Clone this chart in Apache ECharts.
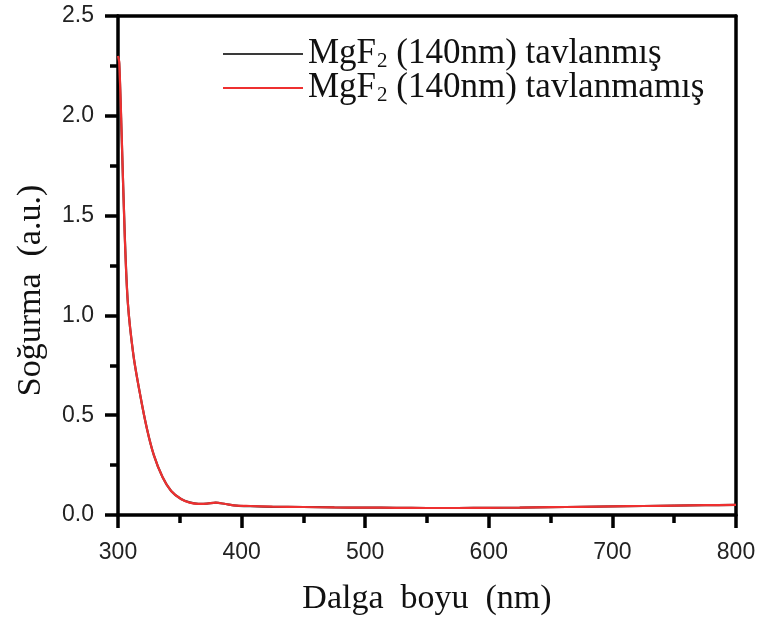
<!DOCTYPE html>
<html>
<head>
<meta charset="utf-8">
<script src="https://cdn.jsdelivr.net/npm/echarts@6/dist/echarts.min.js"></script>
<style>
html,body{margin:0;padding:0;background:#fff;}
#canvas{width:760px;height:628px;}
</style>
</head>
<body>
<div id="canvas"></div>
<script>
// wavelength (nm)
var wavelengths = [300, 301, 303, 305.5, 308, 312.5, 318, 323.5, 329, 336, 343, 351, 358, 365, 372, 379, 387, 396, 407, 425, 450, 475, 500, 525, 550, 575, 600, 625, 650, 675, 700, 725, 750, 775, 800];
// tavlanmis (black, almost hidden under red)
var tavlanmis = [2.30, 2.26, 1.89, 1.40, 1.06, 0.80, 0.60, 0.43, 0.30, 0.19, 0.12, 0.08, 0.063, 0.056, 0.057, 0.062, 0.055, 0.047, 0.044, 0.041, 0.040, 0.038, 0.037, 0.036, 0.035, 0.035, 0.036, 0.037, 0.039, 0.041, 0.043, 0.045, 0.047, 0.049, 0.051];
// tavlanmamis (red)
var tavlanmamis = [2.30, 2.27, 1.90, 1.39, 1.06, 0.80, 0.60, 0.43, 0.30, 0.19, 0.12, 0.08, 0.062, 0.056, 0.057, 0.062, 0.055, 0.047, 0.045, 0.042, 0.040, 0.038, 0.037, 0.036, 0.035, 0.035, 0.036, 0.037, 0.039, 0.041, 0.043, 0.045, 0.047, 0.049, 0.051];

var nameA = 'MgF2 (140nm) tavlanmış';
var nameB = 'MgF2 (140nm) tavlanmamış';
var legendLabels = {};
legendLabels[nameA] = 'MgF{sub|2} (140nm) tavlanmış';
legendLabels[nameB] = 'MgF{sub|2} (140nm) tavlanmamış';

function pairs(xs, ys){
    var out = [];
    for (var i = 0; i < xs.length; i++) { out.push([xs[i], ys[i]]); }
    return out;
}

var myChart = echarts.init(document.getElementById('canvas'));
var serif = '"Liberation Serif", "Times New Roman", serif';
var sans = '"Liberation Sans", Arial, sans-serif';

var legendText = {
    fontFamily: serif, fontSize: 35, color: '#111', lineHeight: 36,
    rich: {
        sub: { fontFamily: serif, fontSize: 21, color: '#111', lineHeight: 36, verticalAlign: 'bottom', padding: [16, 0, 0, 1] }
    }
};
function makeLegend(name, top){
    return {
        left: 218, top: top,
        itemWidth: 80, itemHeight: 2, itemGap: 0,
        icon: 'rect',
        data: [name],
        formatter: function (n) { return legendLabels[n]; },
        textStyle: legendText
    };
}

var axisLine = { show: true, onZero: false, lineStyle: { color: '#000', width: 3.5 } };
var tickLabel = { fontFamily: sans, fontSize: 23, color: '#222' };

var option = {
    animation: false,
    backgroundColor: '#fff',
    grid: { left: 118, right: 24, top: 16, bottom: 113 },
    legend: [makeLegend(nameA, 30), makeLegend(nameB, 64)],
    xAxis: [{
        type: 'value', min: 300, max: 800, interval: 100,
        name: 'Dalga  boyu  (nm)', nameLocation: 'middle', nameGap: 67,
        nameTextStyle: { fontFamily: serif, fontSize: 34, color: '#111' },
        axisLine: axisLine,
        axisTick: { show: true, inside: false, length: 13, lineStyle: { color: '#000', width: 3.5 } },
        minorTick: { show: true, splitNumber: 2, length: 8, lineStyle: { color: '#000', width: 3.5 } },
        axisLabel: { show: true, margin: 26, fontFamily: tickLabel.fontFamily, fontSize: tickLabel.fontSize, color: tickLabel.color },
        splitLine: { show: false }
    }, {
        type: 'value', position: 'top', min: 300, max: 800,
        axisLine: axisLine,
        axisTick: { show: false }, axisLabel: { show: false }, splitLine: { show: false }
    }],
    yAxis: [{
        type: 'value', min: 0, max: 2.5, interval: 0.5,
        name: 'Soğurma  (a.u.)', nameLocation: 'middle', nameGap: 70,
        nameTextStyle: { fontFamily: serif, fontSize: 34, color: '#111', padding: [0, 50, 0, 0] },
        axisLine: axisLine,
        axisTick: { show: true, inside: false, length: 13, lineStyle: { color: '#000', width: 3.5 } },
        minorTick: { show: true, splitNumber: 2, length: 8, lineStyle: { color: '#000', width: 3.5 } },
        axisLabel: { show: true, margin: 24, fontFamily: tickLabel.fontFamily, fontSize: tickLabel.fontSize, color: tickLabel.color,
            formatter: function (v) { return v.toFixed(1); } },
        splitLine: { show: false }
    }, {
        type: 'value', position: 'right', min: 0, max: 2.5,
        axisLine: axisLine,
        axisTick: { show: false }, axisLabel: { show: false }, splitLine: { show: false }
    }],
    series: [
        {
            name: nameA, type: 'line', showSymbol: false, smooth: 0.3,
            itemStyle: { color: '#3a3a3a' },
            lineStyle: { color: '#3a3a3a', width: 2.2 },
            data: pairs(wavelengths, tavlanmis)
        },
        {
            name: nameB, type: 'line', showSymbol: false, smooth: 0.3,
            itemStyle: { color: '#ee3030' },
            lineStyle: { color: '#ee3030', width: 2.2 },
            data: pairs(wavelengths, tavlanmamis)
        }
    ]
};

myChart.setOption(option);
</script>
</body>
</html>
